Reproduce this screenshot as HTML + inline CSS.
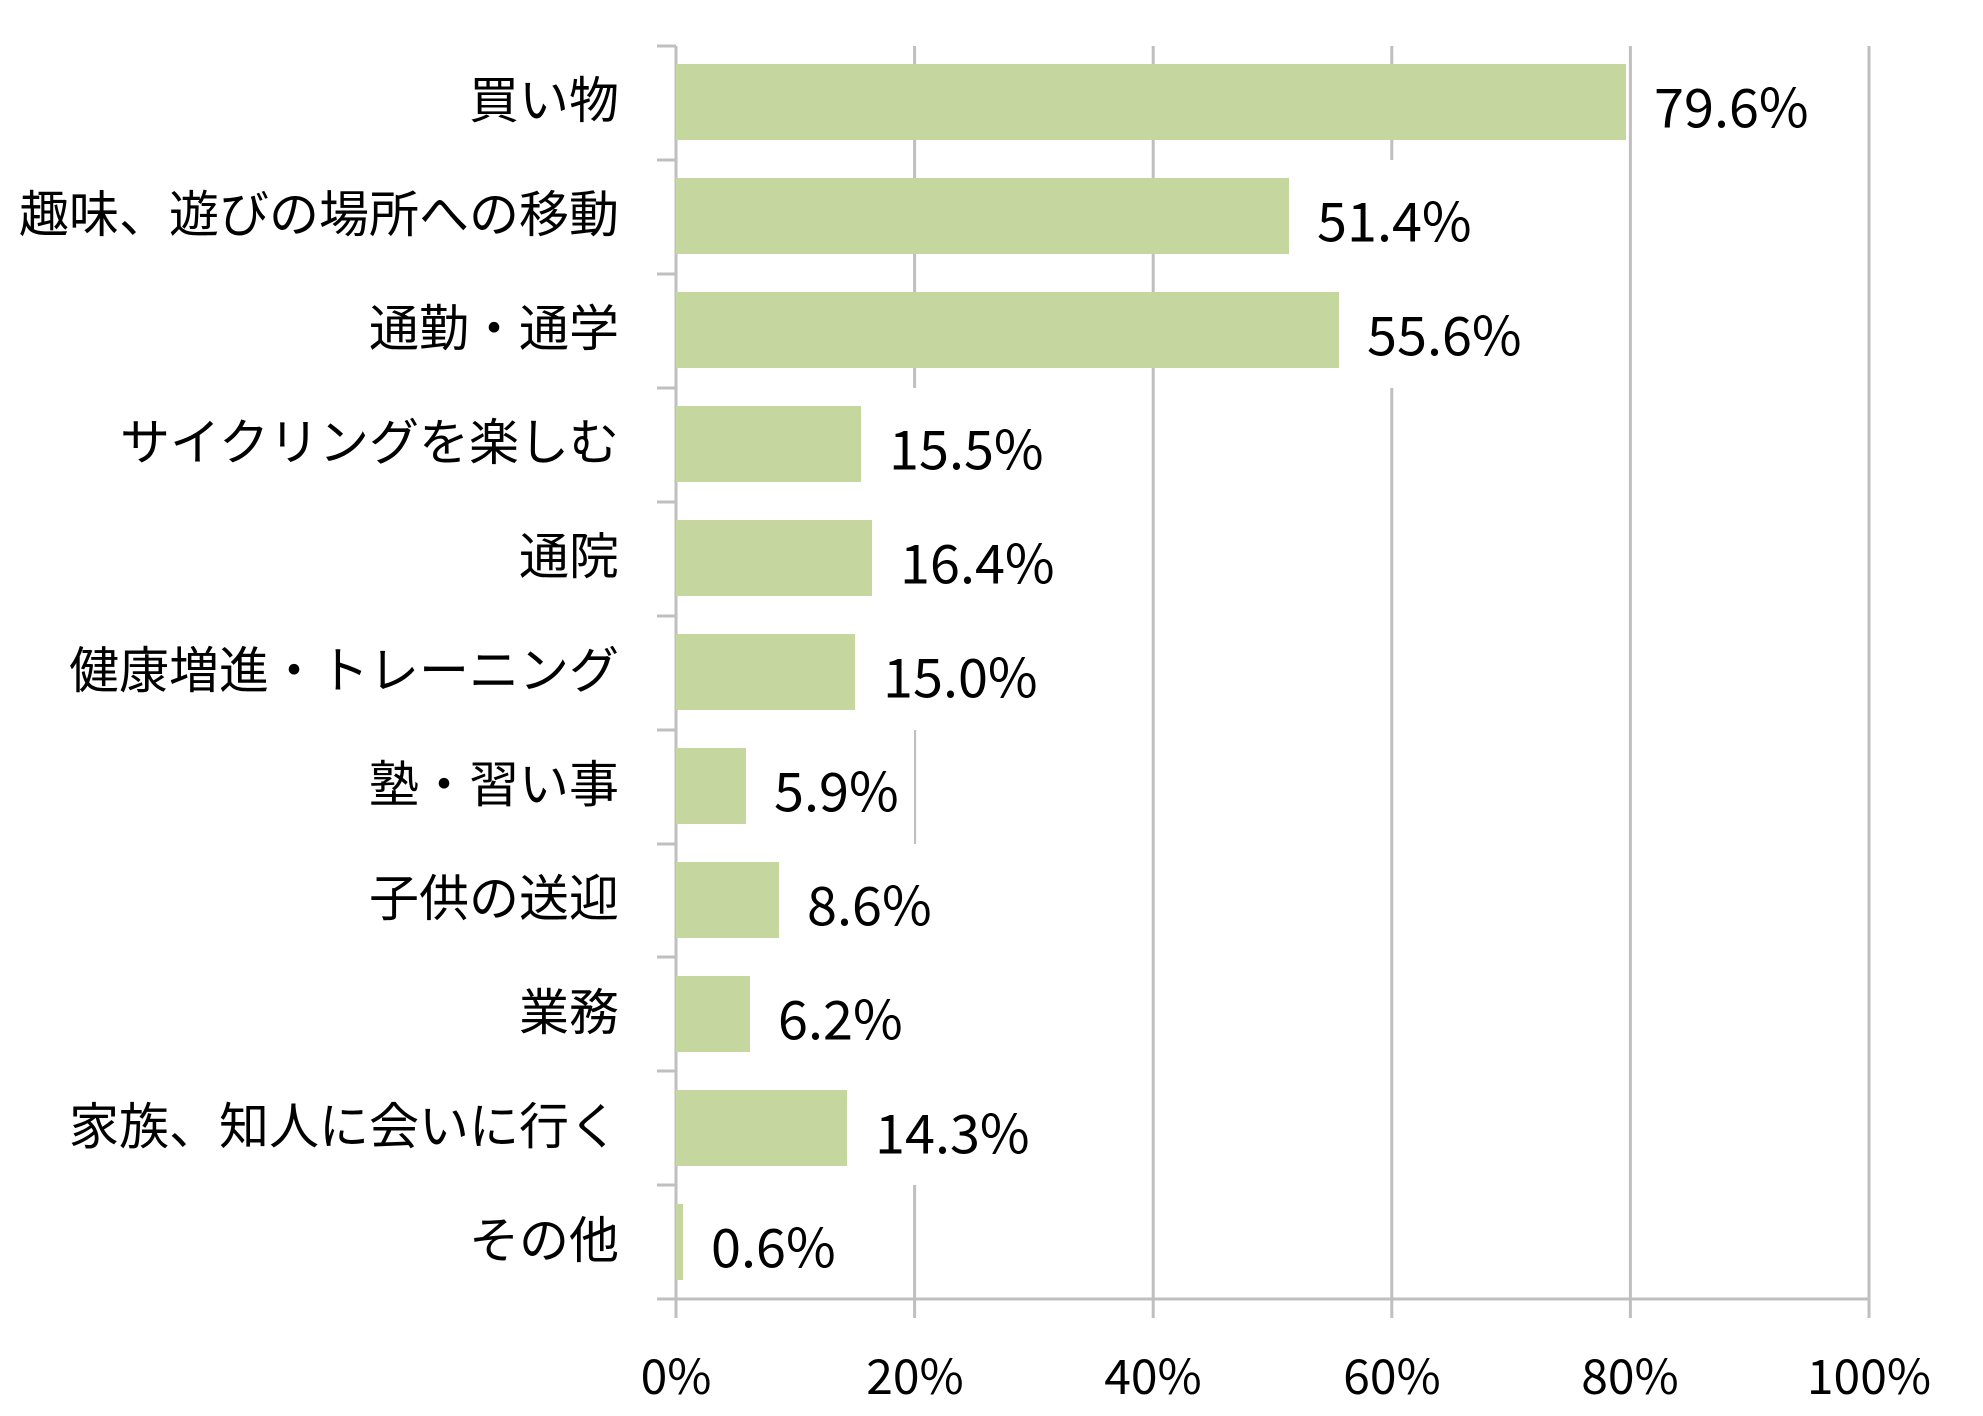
<!DOCTYPE html>
<html><head><meta charset="utf-8"><style>
html,body{margin:0;padding:0;background:#fff;}
svg{display:block;font-family:"Noto Sans CJK JP","Liberation Sans",sans-serif;}
</style></head><body>
<svg width="1983" height="1416" viewBox="0 0 1983 1416" xmlns="http://www.w3.org/2000/svg">
<g stroke="#bfbfbf" stroke-width="3">
<line x1="676" y1="46" x2="676" y2="1318"/>
<line x1="914.6" y1="46" x2="914.6" y2="1318"/>
<line x1="1153.2" y1="46" x2="1153.2" y2="1318"/>
<line x1="1391.8" y1="46" x2="1391.8" y2="1318"/>
<line x1="1630.4" y1="46" x2="1630.4" y2="1318"/>
<line x1="1869" y1="46" x2="1869" y2="1318"/>
<line x1="657" y1="1299" x2="1869" y2="1299"/>
<line x1="657" y1="46" x2="676" y2="46"/>
<line x1="657" y1="160" x2="676" y2="160"/>
<line x1="657" y1="274" x2="676" y2="274"/>
<line x1="657" y1="388" x2="676" y2="388"/>
<line x1="657" y1="502" x2="676" y2="502"/>
<line x1="657" y1="616" x2="676" y2="616"/>
<line x1="657" y1="730" x2="676" y2="730"/>
<line x1="657" y1="844" x2="676" y2="844"/>
<line x1="657" y1="957" x2="676" y2="957"/>
<line x1="657" y1="1071" x2="676" y2="1071"/>
<line x1="657" y1="1185" x2="676" y2="1185"/>
</g>
<g fill="#c5d79e">
<rect x="676" y="64" width="950" height="76"/>
<rect x="676" y="178" width="613" height="76"/>
<rect x="676" y="292" width="663" height="76"/>
<rect x="676" y="406" width="185" height="76"/>
<rect x="676" y="520" width="196" height="76"/>
<rect x="676" y="634" width="179" height="76"/>
<rect x="676" y="748" width="70" height="76"/>
<rect x="676" y="862" width="103" height="76"/>
<rect x="676" y="976" width="74" height="76"/>
<rect x="676" y="1090" width="171" height="76"/>
<rect x="676" y="1204" width="7" height="76"/>
</g>
<g fill="#fff">
<rect x="1639" y="46" width="190" height="114"/>
<rect x="1302" y="160" width="190" height="114"/>
<rect x="1352" y="274" width="190" height="114"/>
<rect x="874" y="388" width="190" height="114"/>
<rect x="885" y="502" width="190" height="114"/>
<rect x="868" y="616" width="190" height="114"/>
<rect x="759" y="730" width="155" height="114"/>
<rect x="792" y="844" width="155" height="114"/>
<rect x="763" y="957" width="155" height="114"/>
<rect x="860" y="1071" width="190" height="114"/>
<rect x="696" y="1185" width="155" height="110"/>
</g>
<g font-size="54" fill="#000" dominant-baseline="central">
<text x="1654" y="104">79.6%</text>
<text x="1317" y="218">51.4%</text>
<text x="1367" y="332">55.6%</text>
<text x="889" y="446">15.5%</text>
<text x="900" y="560">16.4%</text>
<text x="883" y="674">15.0%</text>
<text x="774" y="788">5.9%</text>
<text x="807" y="902">8.6%</text>
<text x="778" y="1016">6.2%</text>
<text x="875" y="1130">14.3%</text>
<text x="711" y="1244">0.6%</text>
</g>
<g font-size="50" fill="#000" text-anchor="end" dominant-baseline="central">
<text x="619" y="97">買い物</text>
<text x="619" y="211">趣味、遊びの場所への移動</text>
<text x="619" y="325">通勤・通学</text>
<text x="619" y="439">サイクリングを楽しむ</text>
<text x="619" y="553">通院</text>
<text x="619" y="667">健康増進・トレーニング</text>
<text x="619" y="781">塾・習い事</text>
<text x="619" y="895">子供の送迎</text>
<text x="619" y="1009">業務</text>
<text x="619" y="1123">家族、知人に会いに行く</text>
<text x="619" y="1237">その他</text>
</g>
<g font-size="48" fill="#000" text-anchor="middle" dominant-baseline="central">
<text x="676" y="1373">0%</text>
<text x="915" y="1373">20%</text>
<text x="1153" y="1373">40%</text>
<text x="1392" y="1373">60%</text>
<text x="1630" y="1373">80%</text>
<text x="1869" y="1373">100%</text>
</g>
</svg>
</body></html>
